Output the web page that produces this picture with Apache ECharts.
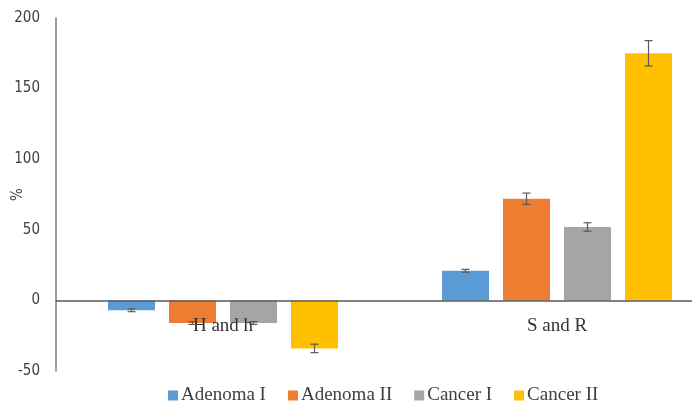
<!DOCTYPE html>
<html>
<head>
<meta charset="utf-8">
<script src="https://cdn.jsdelivr.net/npm/echarts@6/dist/echarts.min.js"></script>
<style>
  html, body { margin: 0; padding: 0; background: #fff; }
  #chart { width: 692px; height: 409px; }
</style>
</head>
<body>
<div id="chart"></div>
<script>
// Categories and series
const categories = ['H and h', 'S and R'];
const seriesNames = ['Adenoma I', 'Adenoma II', 'Cancer I', 'Cancer II'];
const seriesColors = ['#5B9BD5', '#ED7D31', '#A5A5A5', '#FFC000'];

// Mean change (%) per group
const adenomaI = [-7, 21];
const adenomaII = [-16, 72];
const cancerI = [-16, 52];
const cancerII = [-34, 175];

// Error (± %) per group
const adenomaIErr = [1, 1];
const adenomaIIErr = [1, 4];
const cancerIErr = [1, 3];
const cancerIIErr = [3, 9];

// Y axis ticks
const yMin = -50, yMax = 200, yStep = 50;

const values = [adenomaI, adenomaII, cancerI, cancerII];
const errors = [adenomaIErr, adenomaIIErr, cancerIErr, cancerIIErr];

const BAR_W = 47;
const BAR_GAP = 14;

const chart = echarts.init(document.getElementById('chart'), null, { renderer: 'canvas' });

const barSeries = seriesNames.map((name, i) => ({
  name: name,
  type: 'bar',
  data: values[i],
  barWidth: BAR_W,
  barGap: (BAR_GAP / BAR_W * 100) + '%',
  itemStyle: { color: seriesColors[i] },
  z: 2
}));

const errSeries = seriesNames.map((name, i) => ({
  name: name + ' err',
  type: 'custom',
  z: 5,
  silent: true,
  data: values[i].map((v, k) => [k, v - errors[i][k], v + errors[i][k]]),
  renderItem: function (params, api) {
    const k = api.value(0);
    const lo = api.coord([k, api.value(1)]);
    const hi = api.coord([k, api.value(2)]);
    const off = (i - 1.5) * (BAR_W + BAR_GAP);
    const x = lo[0] + off;
    const cap = 4;
    const style = { stroke: '#595959', lineWidth: 1.2 };
    return {
      type: 'group',
      children: [
        { type: 'line', shape: { x1: x, y1: lo[1], x2: x, y2: hi[1] }, style: style },
        { type: 'line', shape: { x1: x - cap, y1: lo[1], x2: x + cap, y2: lo[1] }, style: style },
        { type: 'line', shape: { x1: x - cap, y1: hi[1], x2: x + cap, y2: hi[1] }, style: style }
      ]
    };
  }
}));

chart.setOption({
  animation: false,
  grid: { left: 56, right: -32, top: 18, bottom: 38, containLabel: false, outerBoundsMode: 'none' },
  legend: {
    data: seriesNames,
    left: 163,
    top: 381,
    icon: 'rect',
    itemWidth: 10,
    itemHeight: 10,
    itemGap: 22,
    textStyle: { fontFamily: 'Liberation Serif', fontSize: 19, color: '#404040', padding: [0, 0, 0, -2] }
  },
  xAxis: {
    type: 'category',
    data: categories,
    axisLine: { onZero: true, lineStyle: { color: '#595959', width: 1.5 } },
    axisTick: { show: false },
    axisLabel: { fontFamily: 'Liberation Serif', fontSize: 19, color: '#333333', margin: -54 },
    z: 10
  },
  yAxis: {
    type: 'value',
    min: yMin,
    max: yMax,
    interval: yStep,
    name: '%',
    nameLocation: 'middle',
    nameGap: 30,
    nameMoveOverlap: false,
    nameTextStyle: { fontFamily: 'DejaVu Sans Condensed', fontSize: 15, color: '#404040' },
    axisLine: { show: true, lineStyle: { color: '#7f7f7f', width: 1.5 } },
    axisTick: { show: false },
    splitLine: { show: false },
    axisLabel: { fontFamily: 'DejaVu Sans Condensed', fontSize: 15, color: '#404040', margin: 16 }
  },
  series: barSeries.concat(errSeries)
});
</script>
</body>
</html>
